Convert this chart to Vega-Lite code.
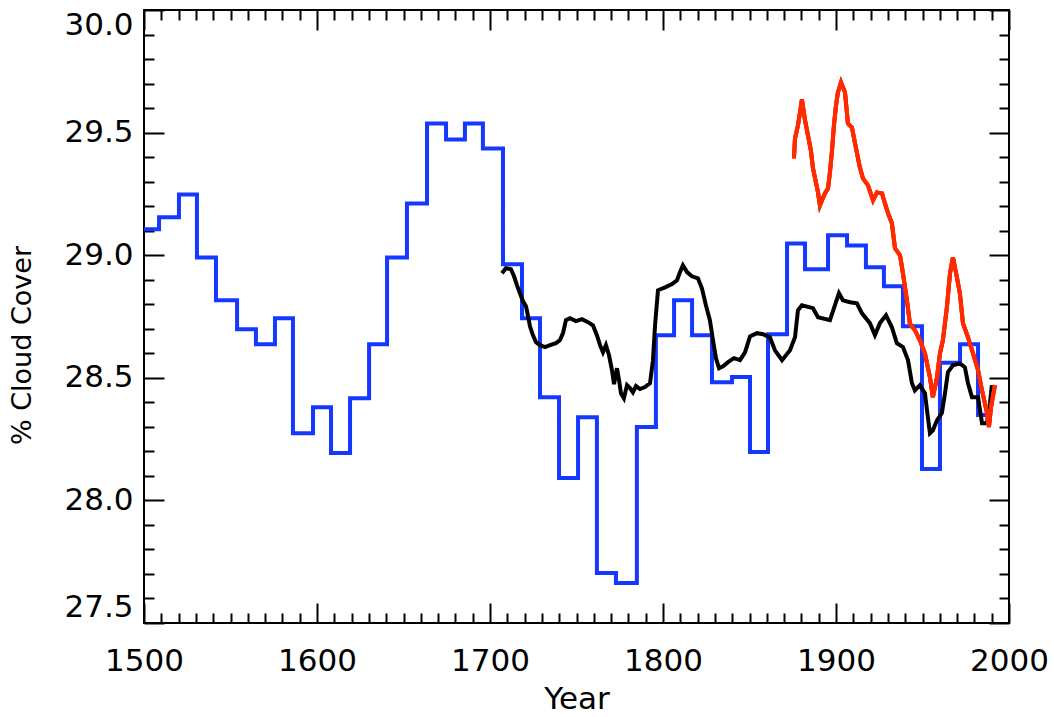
{
  "$schema": "https://vega.github.io/schema/vega-lite/v6.json",
  "width": 865,
  "height": 613,
  "autosize": {"type": "none"},
  "padding": {"left": 144, "top": 10, "right": 45, "bottom": 94},
  "background": "white",
  "config": {
    "view": {"stroke": "black", "strokeWidth": 2},
    "axis": {
      "grid": false,
      "domain": false,
      "labelFont": "DejaVu Sans",
      "labelFontSize": 31,
      "labelColor": "black",
      "titleFont": "DejaVu Sans",
      "titleFontSize": 31,
      "titleFontWeight": "normal",
      "titleColor": "black",
      "tickColor": "black",
      "tickWidth": 2
    }
  },
  "datasets": {
    "blue": [
      {"year": 1500, "cover": 29.106},
      {"year": 1508.7, "cover": 29.155},
      {"year": 1520.2, "cover": 29.248},
      {"year": 1530.6, "cover": 28.991},
      {"year": 1541.6, "cover": 28.816},
      {"year": 1553.8, "cover": 28.698},
      {"year": 1564.7, "cover": 28.637},
      {"year": 1575.7, "cover": 28.743},
      {"year": 1586.1, "cover": 28.274},
      {"year": 1597.7, "cover": 28.38},
      {"year": 1608.1, "cover": 28.193},
      {"year": 1619.1, "cover": 28.417},
      {"year": 1630.1, "cover": 28.637},
      {"year": 1640.5, "cover": 28.991},
      {"year": 1652.0, "cover": 29.211},
      {"year": 1663.6, "cover": 29.537},
      {"year": 1674.6, "cover": 29.472},
      {"year": 1685.5, "cover": 29.537},
      {"year": 1695.9, "cover": 29.435},
      {"year": 1707.5, "cover": 28.963},
      {"year": 1718.5, "cover": 28.743},
      {"year": 1728.9, "cover": 28.421},
      {"year": 1739.9, "cover": 28.091},
      {"year": 1750.9, "cover": 28.339},
      {"year": 1761.8, "cover": 27.704},
      {"year": 1772.8, "cover": 27.663},
      {"year": 1784.9, "cover": 28.299},
      {"year": 1795.9, "cover": 28.674},
      {"year": 1806.4, "cover": 28.816},
      {"year": 1816.8, "cover": 28.674},
      {"year": 1828.3, "cover": 28.482},
      {"year": 1839.9, "cover": 28.503},
      {"year": 1850.3, "cover": 28.197},
      {"year": 1860.7, "cover": 28.678},
      {"year": 1871.7, "cover": 29.048},
      {"year": 1882.1, "cover": 28.943},
      {"year": 1895.4, "cover": 29.081},
      {"year": 1906.4, "cover": 29.04},
      {"year": 1917.3, "cover": 28.951},
      {"year": 1927.7, "cover": 28.873},
      {"year": 1938.7, "cover": 28.71},
      {"year": 1949.7, "cover": 28.128},
      {"year": 1960.1, "cover": 28.561},
      {"year": 1971.7, "cover": 28.637},
      {"year": 1982.1, "cover": 28.348},
      {"year": 1987.9, "cover": 28.348}
    ],
    "black": [
      {"year": 1706.9, "cover": 28.926},
      {"year": 1709.2, "cover": 28.947},
      {"year": 1712.1, "cover": 28.943},
      {"year": 1713.9, "cover": 28.914},
      {"year": 1715.6, "cover": 28.877},
      {"year": 1717.3, "cover": 28.845},
      {"year": 1719.1, "cover": 28.812},
      {"year": 1720.8, "cover": 28.792},
      {"year": 1722.0, "cover": 28.751},
      {"year": 1723.1, "cover": 28.71},
      {"year": 1724.8, "cover": 28.674},
      {"year": 1726.6, "cover": 28.645},
      {"year": 1728.9, "cover": 28.633},
      {"year": 1731.8, "cover": 28.625},
      {"year": 1734.7, "cover": 28.633},
      {"year": 1738.1, "cover": 28.641},
      {"year": 1740.4, "cover": 28.653},
      {"year": 1742.2, "cover": 28.682},
      {"year": 1743.9, "cover": 28.735},
      {"year": 1746.2, "cover": 28.743},
      {"year": 1749.7, "cover": 28.731},
      {"year": 1753.2, "cover": 28.739},
      {"year": 1756.6, "cover": 28.727},
      {"year": 1759.5, "cover": 28.714},
      {"year": 1761.8, "cover": 28.674},
      {"year": 1763.6, "cover": 28.633},
      {"year": 1765.3, "cover": 28.604},
      {"year": 1767.0, "cover": 28.633},
      {"year": 1768.8, "cover": 28.592},
      {"year": 1770.5, "cover": 28.531},
      {"year": 1771.7, "cover": 28.474},
      {"year": 1773.4, "cover": 28.539},
      {"year": 1774.6, "cover": 28.49},
      {"year": 1775.7, "cover": 28.437},
      {"year": 1777.4, "cover": 28.417},
      {"year": 1779.2, "cover": 28.47},
      {"year": 1780.9, "cover": 28.458},
      {"year": 1782.6, "cover": 28.441},
      {"year": 1784.4, "cover": 28.466},
      {"year": 1786.7, "cover": 28.454},
      {"year": 1789.6, "cover": 28.462},
      {"year": 1792.5, "cover": 28.478},
      {"year": 1794.2, "cover": 28.572},
      {"year": 1795.4, "cover": 28.714},
      {"year": 1797.1, "cover": 28.857},
      {"year": 1801.2, "cover": 28.869},
      {"year": 1805.2, "cover": 28.882},
      {"year": 1808.1, "cover": 28.898},
      {"year": 1809.8, "cover": 28.931},
      {"year": 1811.5, "cover": 28.959},
      {"year": 1813.9, "cover": 28.931},
      {"year": 1816.7, "cover": 28.914},
      {"year": 1820.2, "cover": 28.906},
      {"year": 1822.5, "cover": 28.865},
      {"year": 1824.8, "cover": 28.796},
      {"year": 1827.1, "cover": 28.735},
      {"year": 1828.9, "cover": 28.653},
      {"year": 1830.6, "cover": 28.58},
      {"year": 1832.4, "cover": 28.539},
      {"year": 1834.7, "cover": 28.547},
      {"year": 1837.6, "cover": 28.564},
      {"year": 1841.0, "cover": 28.58},
      {"year": 1844.5, "cover": 28.572},
      {"year": 1847.4, "cover": 28.604},
      {"year": 1850.3, "cover": 28.669},
      {"year": 1854.3, "cover": 28.682},
      {"year": 1857.8, "cover": 28.678},
      {"year": 1861.8, "cover": 28.665},
      {"year": 1864.7, "cover": 28.612},
      {"year": 1868.8, "cover": 28.572},
      {"year": 1873.4, "cover": 28.612},
      {"year": 1876.3, "cover": 28.665},
      {"year": 1878.0, "cover": 28.775},
      {"year": 1880.3, "cover": 28.796},
      {"year": 1886.7, "cover": 28.784},
      {"year": 1889.6, "cover": 28.747},
      {"year": 1896.5, "cover": 28.735},
      {"year": 1899.4, "cover": 28.796},
      {"year": 1901.7, "cover": 28.845},
      {"year": 1904.0, "cover": 28.816},
      {"year": 1908.1, "cover": 28.808},
      {"year": 1912.1, "cover": 28.804},
      {"year": 1915.0, "cover": 28.763},
      {"year": 1919.6, "cover": 28.723},
      {"year": 1922.5, "cover": 28.674},
      {"year": 1925.4, "cover": 28.723},
      {"year": 1928.9, "cover": 28.755},
      {"year": 1932.3, "cover": 28.706},
      {"year": 1935.2, "cover": 28.641},
      {"year": 1938.7, "cover": 28.625},
      {"year": 1941.6, "cover": 28.572},
      {"year": 1943.9, "cover": 28.478},
      {"year": 1945.6, "cover": 28.449},
      {"year": 1948.5, "cover": 28.47},
      {"year": 1951.4, "cover": 28.437},
      {"year": 1952.6, "cover": 28.368},
      {"year": 1954.3, "cover": 28.274},
      {"year": 1956.0, "cover": 28.286},
      {"year": 1958.4, "cover": 28.327},
      {"year": 1961.2, "cover": 28.356},
      {"year": 1963.0, "cover": 28.437},
      {"year": 1964.7, "cover": 28.523},
      {"year": 1967.6, "cover": 28.551},
      {"year": 1971.6, "cover": 28.559},
      {"year": 1974.5, "cover": 28.543},
      {"year": 1976.3, "cover": 28.478},
      {"year": 1978.6, "cover": 28.421},
      {"year": 1982.1, "cover": 28.421},
      {"year": 1984.4, "cover": 28.315},
      {"year": 1987.3, "cover": 28.315},
      {"year": 1989.0, "cover": 28.397},
      {"year": 1990.1, "cover": 28.47}
    ],
    "red": [
      {"year": 1875.7, "cover": 29.395},
      {"year": 1876.3, "cover": 29.476},
      {"year": 1878.0, "cover": 29.529},
      {"year": 1879.2, "cover": 29.582},
      {"year": 1880.3, "cover": 29.635},
      {"year": 1882.1, "cover": 29.55},
      {"year": 1883.8, "cover": 29.489},
      {"year": 1885.5, "cover": 29.427},
      {"year": 1886.7, "cover": 29.354},
      {"year": 1888.4, "cover": 29.297},
      {"year": 1889.6, "cover": 29.256},
      {"year": 1890.7, "cover": 29.203},
      {"year": 1891.9, "cover": 29.224},
      {"year": 1893.6, "cover": 29.252},
      {"year": 1895.4, "cover": 29.273},
      {"year": 1896.5, "cover": 29.338},
      {"year": 1897.7, "cover": 29.427},
      {"year": 1898.8, "cover": 29.529},
      {"year": 1900.0, "cover": 29.611},
      {"year": 1901.1, "cover": 29.664},
      {"year": 1902.9, "cover": 29.705},
      {"year": 1905.2, "cover": 29.664},
      {"year": 1906.9, "cover": 29.537},
      {"year": 1909.2, "cover": 29.521},
      {"year": 1911.0, "cover": 29.456},
      {"year": 1913.8, "cover": 29.358},
      {"year": 1915.6, "cover": 29.313},
      {"year": 1918.5, "cover": 29.285},
      {"year": 1921.4, "cover": 29.224},
      {"year": 1923.7, "cover": 29.256},
      {"year": 1926.6, "cover": 29.252},
      {"year": 1928.3, "cover": 29.211},
      {"year": 1930.1, "cover": 29.171},
      {"year": 1932.3, "cover": 29.13},
      {"year": 1934.1, "cover": 29.028},
      {"year": 1937.0, "cover": 29.0},
      {"year": 1938.7, "cover": 28.926},
      {"year": 1941.0, "cover": 28.816},
      {"year": 1942.7, "cover": 28.722},
      {"year": 1945.6, "cover": 28.694},
      {"year": 1948.5, "cover": 28.653},
      {"year": 1951.4, "cover": 28.6},
      {"year": 1954.3, "cover": 28.502},
      {"year": 1956.0, "cover": 28.421},
      {"year": 1958.4, "cover": 28.502},
      {"year": 1960.1, "cover": 28.6},
      {"year": 1961.8, "cover": 28.653},
      {"year": 1964.1, "cover": 28.788},
      {"year": 1965.9, "cover": 28.926},
      {"year": 1967.6, "cover": 28.991},
      {"year": 1969.9, "cover": 28.91},
      {"year": 1971.6, "cover": 28.845},
      {"year": 1973.4, "cover": 28.722},
      {"year": 1976.3, "cover": 28.665},
      {"year": 1979.2, "cover": 28.6},
      {"year": 1982.1, "cover": 28.531},
      {"year": 1984.4, "cover": 28.449},
      {"year": 1987.3, "cover": 28.356},
      {"year": 1988.4, "cover": 28.299},
      {"year": 1989.6, "cover": 28.38},
      {"year": 1991.9, "cover": 28.47}
    ]
  },
  "resolve": {"scale": {"x": "independent", "y": "independent"}, "axis": {"x": "independent", "y": "independent"}},
  "layer": [
    {
      "data": {"name": "blue"},
      "mark": {"type": "line", "interpolate": "step-after", "color": "#1438ff", "strokeWidth": 4},
      "encoding": {
        "x": {"field": "year", "type": "quantitative",
          "scale": {"domain": [1500, 2000], "nice": false, "zero": false},
          "axis": {"orient": "bottom", "values": [1500, 1600, 1700, 1800, 1900, 2000], "format": "d", "ticks": false, "labelFlush": false, "labelPadding": 23, "title": "Year", "titlePadding": 8}},
        "y": {"field": "cover", "type": "quantitative",
          "scale": {"domain": [27.5, 30], "nice": false, "zero": false},
          "axis": {"orient": "left", "values": [27.5, 28, 28.5, 29, 29.5, 30], "format": ".1f", "ticks": false, "labelFlush": true, "labelPadding": 11, "title": "% Cloud Cover", "titleFontSize": 27, "titlePadding": 27, "titleY": 335}}
      }
    },
    {
      "data": {"name": "black"},
      "mark": {"type": "line", "color": "black", "strokeWidth": 4},
      "encoding": {
        "x": {"field": "year", "type": "quantitative",
          "scale": {"domain": [1500, 2000], "nice": false, "zero": false},
          "axis": {"orient": "bottom", "values": [1500, 1600, 1700, 1800, 1900, 2000], "labels": false, "tickSize": -20, "title": null}},
        "y": {"field": "cover", "type": "quantitative",
          "scale": {"domain": [27.5, 30], "nice": false, "zero": false},
          "axis": {"orient": "left", "values": [27.5, 28, 28.5, 29, 29.5, 30], "labels": false, "tickSize": -20, "title": null}}
      }
    },
    {
      "data": {"name": "red"},
      "mark": {"type": "line", "color": "#ff2a00", "strokeWidth": 4},
      "encoding": {
        "x": {"field": "year", "type": "quantitative",
          "scale": {"domain": [1500, 2000], "nice": false, "zero": false},
          "axis": {"orient": "bottom", "values": [1510, 1520, 1530, 1540, 1550, 1560, 1570, 1580, 1590, 1610, 1620, 1630, 1640, 1650, 1660, 1670, 1680, 1690, 1710, 1720, 1730, 1740, 1750, 1760, 1770, 1780, 1790, 1810, 1820, 1830, 1840, 1850, 1860, 1870, 1880, 1890, 1910, 1920, 1930, 1940, 1950, 1960, 1970, 1980, 1990], "labels": false, "tickSize": -10, "title": null}},
        "y": {"field": "cover", "type": "quantitative",
          "scale": {"domain": [27.5, 30], "nice": false, "zero": false},
          "axis": {"orient": "left", "values": [27.6, 27.7, 27.8, 27.9, 28.1, 28.2, 28.3, 28.4, 28.6, 28.7, 28.8, 28.9, 29.1, 29.2, 29.3, 29.4, 29.6, 29.7, 29.8, 29.9], "labels": false, "tickSize": -10, "title": null}}
      }
    },
    {
      "data": {"name": "red"},
      "mark": {"type": "line", "color": "#ff2a00", "strokeWidth": 4},
      "encoding": {
        "x": {"field": "year", "type": "quantitative",
          "scale": {"domain": [1500, 2000], "nice": false, "zero": false},
          "axis": {"orient": "top", "values": [1500, 1600, 1700, 1800, 1900, 2000], "labels": false, "tickSize": -20, "title": null}},
        "y": {"field": "cover", "type": "quantitative",
          "scale": {"domain": [27.5, 30], "nice": false, "zero": false},
          "axis": {"orient": "right", "values": [27.5, 28, 28.5, 29, 29.5, 30], "labels": false, "tickSize": -20, "title": null}}
      }
    },
    {
      "data": {"name": "red"},
      "mark": {"type": "line", "color": "#ff2a00", "strokeWidth": 4},
      "encoding": {
        "x": {"field": "year", "type": "quantitative",
          "scale": {"domain": [1500, 2000], "nice": false, "zero": false},
          "axis": {"orient": "top", "values": [1510, 1520, 1530, 1540, 1550, 1560, 1570, 1580, 1590, 1610, 1620, 1630, 1640, 1650, 1660, 1670, 1680, 1690, 1710, 1720, 1730, 1740, 1750, 1760, 1770, 1780, 1790, 1810, 1820, 1830, 1840, 1850, 1860, 1870, 1880, 1890, 1910, 1920, 1930, 1940, 1950, 1960, 1970, 1980, 1990], "labels": false, "tickSize": -10, "title": null}},
        "y": {"field": "cover", "type": "quantitative",
          "scale": {"domain": [27.5, 30], "nice": false, "zero": false},
          "axis": {"orient": "right", "values": [27.6, 27.7, 27.8, 27.9, 28.1, 28.2, 28.3, 28.4, 28.6, 28.7, 28.8, 28.9, 29.1, 29.2, 29.3, 29.4, 29.6, 29.7, 29.8, 29.9], "labels": false, "tickSize": -10, "title": null}}
      }
    }
  ]
}
